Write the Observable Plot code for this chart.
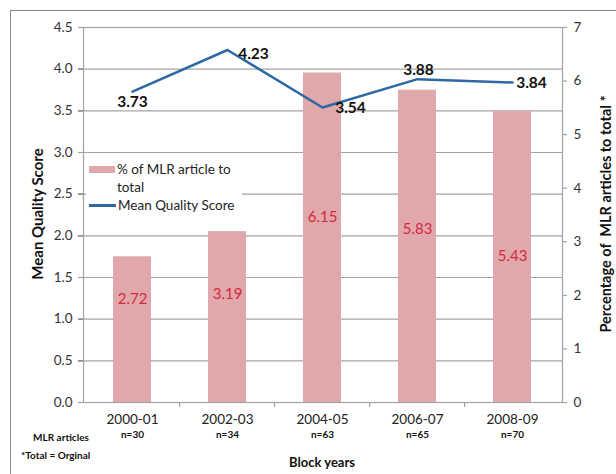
<!DOCTYPE html>
<html>
<head>
<meta charset="utf-8">
<script src="https://cdn.jsdelivr.net/npm/d3@7"></script>
<script src="https://cdn.jsdelivr.net/npm/@observablehq/plot@0.6"></script>
<style>
  html, body { margin: 0; padding: 0; background: #fff; }
  #wrap { position: relative; width: 616px; height: 474px; overflow: hidden; font-family: Lato, "Liberation Sans", sans-serif; }
  #border { position: absolute; left: 10px; top: 10px; width: 700px; height: 600px; border-left: 1.5px solid #8a8a8a; border-top: 1.5px solid #8a8a8a; }
  .ov { position: absolute; white-space: pre; color: #111; }
  #legend { position: absolute; left: 86px; top: 158px; width: 156px; height: 58px; background: #fff; }
  .sw { position: absolute; }
  .lt { position: absolute; font-size: 13.5px; color: #222; line-height: 18px; white-space: pre; }
</style>
</head>
<body>
<div id="wrap">
  <div id="border"></div>
  <div id="chart"></div>
</div>
<script>
// ---- data ----
const categories = ["2000-01", "2002-03", "2004-05", "2006-07", "2008-09"];
const articleCounts = ["n=30", "n=34", "n=63", "n=65", "n=70"];
const pctMLR = [2.72, 3.19, 6.15, 5.83, 5.43];        // right axis (%)
const meanQuality = [3.73, 4.23, 3.54, 3.88, 3.84];    // left axis
const leftTicks = [0, 0.5, 1, 1.5, 2, 2.5, 3, 3.5, 4, 4.5];
const rightTicks = [0, 1, 2, 3, 4, 5, 6, 7];
const leftMax = 4.5, rightMax = 7;

// ---- layout constants (not data) ----
const W = 616, H = 474;
const mL = 83, mR = 54, mT = 27, mB = 72;
const frameH = H - mT - mB;
const step = (W - mL - mR) / categories.length;
const k = leftMax / rightMax;
const lineLabelOffsets = [[0, 10], [26, 4], [28, 1], [1, -9], [19, 1]];
const barLabelOffsets = [-30, -23, -21, -17, -1];

const rows = categories.map((c, i) => ({cat: c, n: articleCounts[i], pct: pctMLR[i], score: meanQuality[i], i}));

const barColor = "#e0a8ab";
const lineColor = "#2e69a4";
const redText = "#d6283b";
const grid = "#a3a3a3";

const marks = [
  Plot.gridY(leftTicks, {stroke: grid, strokeOpacity: 1, strokeWidth: 1.2}),
  Plot.barY(rows, {x: "cat", y: d => d.pct * k, fill: barColor}),
  Plot.frame({stroke: grid, strokeWidth: 1.2}),
  Plot.axisY(leftTicks, {anchor: "left", tickSize: 5, tickPadding: 6, tickFormat: d3.format(".1f"),
    fontSize: 13.5, fill: "#333", label: null}),
  Plot.tickY(leftTicks, {y: d => d, stroke: grid, strokeWidth: 1.2, insetLeft: -5, insetRight: W - mL - mR}),
  Plot.axisY(rightTicks.map(v => v * k), {anchor: "right", tickSize: 0, tickPadding: 11,
    tickFormat: v => String(Math.round(v / k)), fontSize: 13.5, fill: "#333", label: null}),
  Plot.tickY(rightTicks.map(v => v * k), {y: d => d, stroke: grid, strokeWidth: 1.2, insetLeft: W - mL - mR, insetRight: -5}),
  Plot.axisX({anchor: "bottom", tickSize: 0, tickPadding: 12, fontSize: 13.5, fill: "#222", label: null}),
  Plot.ruleX(categories.slice(1), {x: d => d, dx: -step / 2, stroke: grid, strokeWidth: 1.2, insetTop: frameH, insetBottom: -5}),
  Plot.text(rows, {x: "cat", text: "n", frameAnchor: "bottom", dy: 35, fontSize: 10, fontWeight: "bold", fill: "#111"}),
  Plot.line(rows, {x: "cat", y: "score", stroke: lineColor, strokeWidth: 2.5}),
  ...rows.map((r, i) => Plot.text([r], {x: "cat", y: d => d.pct * k / 2, text: d => d.pct.toFixed(2),
    dy: barLabelOffsets[i], fill: redText, fontSize: 15})),
  ...rows.map((r, i) => Plot.text([r], {x: "cat", y: "score", text: d => d.score.toFixed(2),
    dx: lineLabelOffsets[i][0], dy: lineLabelOffsets[i][1], fill: "#111", fontSize: 15.5, fontWeight: "bold"}))
];

const chart = Plot.plot({
  width: W, height: H,
  marginLeft: mL, marginRight: mR, marginTop: mT, marginBottom: mB,
  style: {fontFamily: "Lato, 'Liberation Sans', sans-serif", background: "transparent", overflow: "visible"},
  x: {domain: categories, paddingInner: 0.6, paddingOuter: 0.3, axis: null},
  y: {domain: [0, leftMax], axis: null},
  marks
});
chart.style.position = "absolute";
chart.style.left = "0px";
chart.style.top = "0px";
document.getElementById("chart").appendChild(chart);

// ---- overlays: titles, legend, notes ----
const wrap = document.getElementById("wrap");
function ov(text, css) {
  const d = document.createElement("div");
  d.className = "ov";
  d.textContent = text;
  Object.assign(d.style, css);
  wrap.appendChild(d);
  return d;
}
ov("Mean Quality Score", {left: "37px", top: "214px", fontSize: "15px", fontWeight: "bold",
  transform: "translate(-50%,-50%) rotate(-90deg)"});
ov("Percentage of  MLR articles to total *", {left: "605px", top: "214px", fontSize: "14.5px", fontWeight: "bold",
  transform: "translate(-50%,-50%) rotate(-90deg)"});
ov("MLR articles", {left: "61px", top: "437px", fontSize: "10px", fontWeight: "bold", transform: "translate(-50%,-50%)"});
ov("*Total = Orginal", {left: "21px", top: "455px", fontSize: "10px", fontWeight: "bold", transform: "translate(0,-50%)"});
ov("Block years", {left: "322px", top: "462px", fontSize: "13px", fontWeight: "bold", transform: "translate(-50%,-50%)"});

// legend
const lg = document.createElement("div");
lg.id = "legend";
wrap.appendChild(lg);
const sw1 = document.createElement("div");
sw1.className = "sw";
Object.assign(sw1.style, {left: "3px", top: "8px", width: "26px", height: "7px", background: barColor});
lg.appendChild(sw1);
const t1 = document.createElement("div");
t1.className = "lt";
t1.textContent = "% of MLR article to\ntotal";
Object.assign(t1.style, {left: "31px", top: "2px"});
lg.appendChild(t1);
const sw2 = document.createElement("div");
sw2.className = "sw";
Object.assign(sw2.style, {left: "3px", top: "46px", width: "27px", height: "2.5px", background: lineColor});
lg.appendChild(sw2);
const t2 = document.createElement("div");
t2.className = "lt";
t2.textContent = "Mean Quality Score";
Object.assign(t2.style, {left: "32px", top: "38px"});
lg.appendChild(t2);
</script>
</body>
</html>
